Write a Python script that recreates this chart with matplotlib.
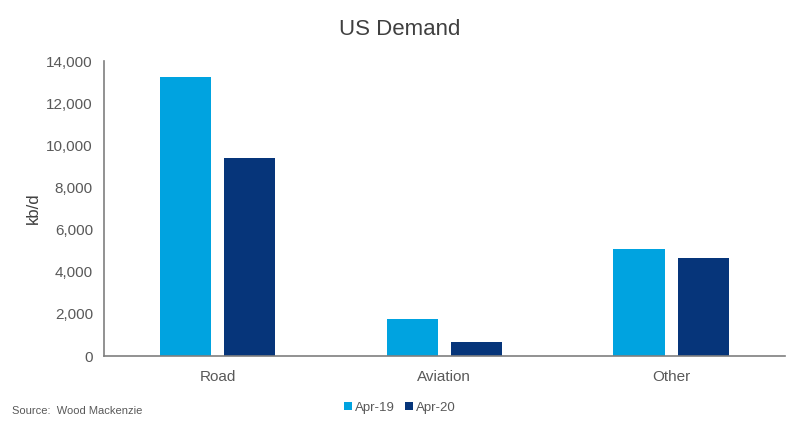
import numpy as np
import matplotlib
matplotlib.use("Agg")
import matplotlib.pyplot as plt
from matplotlib.ticker import FuncFormatter

plt.rcParams['font.family'] = ['Liberation Sans', 'DejaVu Sans']

categories = ['Road', 'Aviation', 'Other']
apr19 = [13250, 1750, 5100]
apr20 = [9390, 690, 4650]
series_names = ['Apr-19', 'Apr-20']

c19 = '#00a3e0'
c20 = '#06357a'
grey = '#595959'

fig = plt.figure(figsize=(8, 4.28), dpi=100)
ax = fig.add_axes([0.13, 0.168, 0.851, 0.689])

x = np.arange(len(categories))
w = 0.225
gap = 0.06
ax.bar(x - (w + gap) / 2, apr19, w, color=c19, label=series_names[0])
ax.bar(x + (w + gap) / 2, apr20, w, color=c20, label=series_names[1])

ax.set_xlim(-0.5, len(categories) - 0.5)
ax.set_ylim(0, 14000)
ax.set_yticks(np.arange(0, 14001, 2000))
ax.yaxis.set_major_formatter(FuncFormatter(lambda v, p: f'{int(v):,}'))
ax.set_xticks(x)
ax.set_xticklabels(categories)

for s in ['top', 'right']:
    ax.spines[s].set_visible(False)
for s in ['left', 'bottom']:
    ax.spines[s].set_color('#7f7f7f')
    ax.spines[s].set_linewidth(1.2)
ax.tick_params(axis='both', length=0, labelsize=11, colors=grey, pad=8)
ax.tick_params(axis='x', pad=10)

ax.set_ylabel('kb/d', fontsize=12, color='#404040', labelpad=4)
fig.text(0.5, 0.93, 'US Demand', ha='center', va='center', fontsize=16, color='#404040')

fig.legend(loc='center', bbox_to_anchor=(0.5, 0.047), ncol=2, frameon=False,
           fontsize=9.5, handlelength=0.6, handleheight=0.6, handletextpad=0.2,
           columnspacing=0.8, labelcolor=grey)
fig.text(0.015, 0.04, 'Source:  Wood Mackenzie', fontsize=8, color=grey, va='center')

fig.savefig('out.png', dpi=100)
